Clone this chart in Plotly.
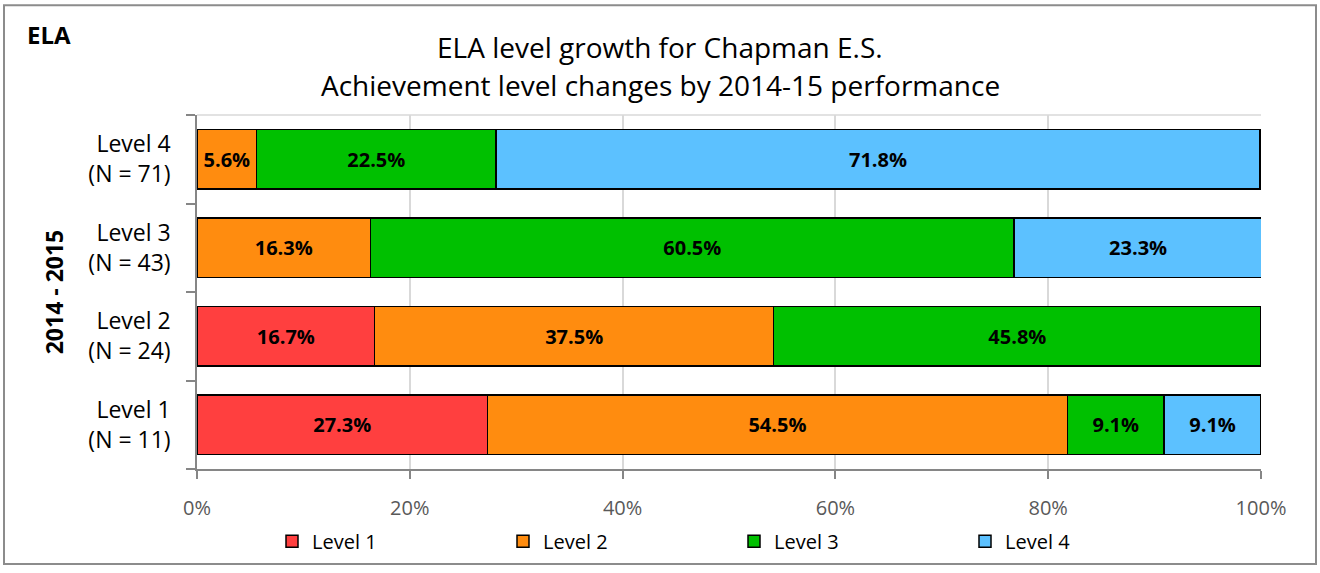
import plotly.graph_objects as go

categories = ["Level 1<br>(N = 11)", "Level 2<br>(N = 24)", "Level 3<br>(N = 43)", "Level 4<br>(N = 71)"]
series_names = ["Level 1", "Level 2", "Level 3", "Level 4"]
level1 = [27.3, 16.7, 0.0, 0.0]
level2 = [54.5, 37.5, 16.3, 5.6]
level3 = [9.1, 45.8, 60.5, 22.5]
level4 = [9.1, 0.0, 23.3, 71.8]
colors = ["#FF3F3F", "#FF8C0F", "#00C000", "#5CC1FF"]
x_ticks = [0, 20, 40, 60, 80, 100]
x_tick_labels = ["0%", "20%", "40%", "60%", "80%", "100%"]

FONT = "Open Sans"
W, H = 1320, 573
L, R, T, B = 197, 59, 115, 100
pw, ph = W - L - R, H - T - B

def px(x):
    return (x - L) / pw

def py(y):
    return 1 - (y - T) / ph

fig = go.Figure()
for name, vals, col in zip(series_names, [level1, level2, level3, level4], colors):
    fig.add_trace(go.Bar(
        y=categories, x=vals, name=name, orientation="h",
        marker=dict(color=col, line=dict(color="#000000", width=1.5)),
        text=[f"{v:.1f}%" if v > 0 else "" for v in vals],
        textposition="inside", insidetextanchor="middle",
        textfont=dict(family=FONT, size=20, color="#000000", weight="bold"),
        constraintext="none",
        hoverinfo="skip",
    ))

fig.update_layout(
    width=W, height=H,
    barmode="stack", bargap=0.33,
    plot_bgcolor="white", paper_bgcolor="white",
    margin=dict(l=L, r=R, t=T, b=B),
    font=dict(family=FONT, color="#000000"),
    showlegend=True,
    legend=dict(orientation="h", x=px(272), xanchor="left", y=py(546), yanchor="middle",
                font=dict(family=FONT, size=20, color="#000000"),
                entrywidth=186, entrywidthmode="pixels", traceorder="normal",
                itemclick=False, itemdoubleclick=False, itemwidth=30),
    xaxis=dict(range=[0, 100], tickvals=x_ticks, ticktext=x_tick_labels,
               showgrid=True, gridcolor="#D9D9D9", gridwidth=1.5,
               showline=True, linecolor="#868686", linewidth=1.5,
               ticks="outside", ticklen=8, tickcolor="#868686", tickwidth=1.5,
               tickfont=dict(family=FONT, size=20, color="#595959"),
               ticklabelstandoff=12, zeroline=False, fixedrange=True),
    yaxis=dict(categoryorder="array", categoryarray=categories,
               showline=True, linecolor="#868686", linewidth=1.5,
               ticks="outside", tickson="boundaries", ticklen=9, tickcolor="#868686", tickwidth=1.5,
               tickfont=dict(family=FONT, size=23, color="#000000"),
               ticklabelstandoff=20, showgrid=False, fixedrange=True,
               title=dict(text="<b>2014 - 2015</b>", font=dict(family=FONT, size=23, color="#000000"),
                          standoff=18)),
)

# top edge line of plot area
fig.add_shape(type="line", xref="paper", yref="paper", x0=0, x1=1, y0=1, y1=1,
              line=dict(color="#D9D9D9", width=1.5))
# outer chart border
fig.add_shape(type="rect", xref="paper", yref="paper",
              x0=px(4), x1=px(1316), y0=py(569), y1=py(4),
              line=dict(color="#8C8C8C", width=2), fillcolor="rgba(0,0,0,0)", layer="below")

fig.add_annotation(text="<b>ELA</b>", xref="paper", yref="paper", x=px(25), y=py(34),
                   xanchor="left", yanchor="middle", showarrow=False,
                   font=dict(family=FONT, size=24, color="#000000"))
fig.add_annotation(text="ELA level growth for Chapman E.S.", xref="paper", yref="paper",
                   x=px(660), y=py(46), xanchor="center", yanchor="middle", showarrow=False,
                   font=dict(family=FONT, size=28, color="#000000"))
fig.add_annotation(text="Achievement level changes by 2014-15 performance", xref="paper", yref="paper",
                   x=px(660), y=py(85), xanchor="center", yanchor="middle", showarrow=False,
                   font=dict(family=FONT, size=28, color="#000000"))

fig.write_html("out.html", config={"displayModeBar": False},
               post_script="document.body.style.margin='0';document.body.style.overflow='hidden';")
